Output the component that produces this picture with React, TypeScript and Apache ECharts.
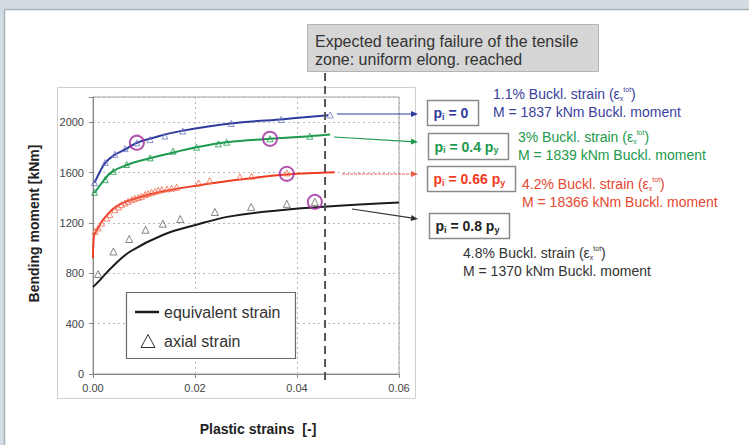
import React, { useEffect, useRef } from "react";
import * as echarts from "echarts";

// ---- data ----
const blueLineX = [0.0003, 0.0014, 0.0024, 0.004, 0.0063, 0.0086, 0.0122, 0.0171, 0.0269, 0.0367, 0.0461];
const blueLineY = [1518, 1610, 1677, 1735, 1783, 1836, 1881, 1929, 1990, 2022, 2056];
const blueMarkX = [0.0003, 0.0024, 0.0043, 0.0063, 0.0086, 0.0112, 0.0141, 0.0176, 0.0271, 0.0369, 0.0465];
const blueMarkY = [1520, 1680, 1745, 1790, 1836, 1862, 1890, 1930, 1990, 2022, 2058];

const greenLineX = [0.0003, 0.002, 0.0037, 0.0069, 0.0102, 0.0141, 0.0203, 0.0262, 0.0347, 0.0425, 0.0465];
const greenLineY = [1438, 1531, 1605, 1664, 1703, 1743, 1801, 1841, 1868, 1889, 1902];
const greenMarkX = [0.0003, 0.0024, 0.004, 0.0066, 0.0112, 0.0157, 0.0203, 0.0246, 0.0262, 0.0347, 0.0425];
const greenMarkY = [1443, 1544, 1610, 1664, 1717, 1770, 1801, 1828, 1841, 1868, 1889];

const redLineX = [0, 0.0002, 0.0006, 0.002, 0.0046, 0.0086, 0.0138, 0.0203, 0.0288, 0.038, 0.0474];
const redLineY = [920, 1100, 1130, 1226, 1332, 1398, 1451, 1496, 1544, 1584, 1602];
const redMarkX = [0.0004, 0.001, 0.0017, 0.0027, 0.0033, 0.0043, 0.005, 0.0056, 0.0063, 0.0069, 0.0076, 0.0082, 0.0089, 0.0095, 0.0102, 0.0108, 0.0115, 0.0122, 0.0128, 0.0135, 0.0145, 0.0154, 0.0164, 0.0207, 0.0229, 0.0288, 0.0311, 0.038];
const redMarkY = [1133, 1160, 1199, 1239, 1266, 1305, 1327, 1345, 1359, 1372, 1385, 1395, 1403, 1411, 1425, 1433, 1443, 1451, 1459, 1465, 1470, 1475, 1483, 1518, 1536, 1566, 1571, 1597];

const blackLineX = [0, 0.0014, 0.004, 0.0073, 0.0138, 0.0203, 0.0269, 0.0367, 0.046, 0.06];
const blackLineY = [690, 748, 860, 973, 1106, 1186, 1252, 1300, 1330, 1362];
const blackMarkX = [0.001, 0.004, 0.0071, 0.0103, 0.0137, 0.0171, 0.0239, 0.031, 0.038, 0.0435];
const blackMarkY = [794, 973, 1072, 1146, 1194, 1231, 1287, 1327, 1351, 1367];

const bucklingX = [0.0086, 0.0347, 0.038, 0.0435];
const bucklingY = [1837, 1868, 1590, 1367];

const tearingStrain = 0.0455;
const xTicks = { min: 0, max: 0.06, interval: 0.02 };
const yTicks = { min: 0, max: 2200, interval: 400, lastLabel: 2000 };

const BLUE = "#2f3c9e";
const GREEN = "#1d9a4e";
const RED = "#ef3b24";
const BLACK = "#1c1c1c";
const MAGENTA = "#a02a9c";
const FONT = "'Liberation Sans', Arial, sans-serif";

const zip = (xs: number[], ys: number[]) => xs.map((x, i) => [x, ys[i]]);

function arrow(x1: number, y1: number, x2: number, y2: number, color: string, dash?: number[]) {
  const a = Math.atan2(y2 - y1, x2 - x1);
  const L = 7, W = 3;
  const bx = x2 - L * Math.cos(a), by = y2 - L * Math.sin(a);
  const px = -Math.sin(a) * W, py = Math.cos(a) * W;
  return [
    { type: "line", z: 50, shape: { x1, y1, x2: bx, y2: by }, style: { stroke: color, lineWidth: 1.2, lineDash: dash } },
    { type: "polygon", z: 50, shape: { points: [[x2, y2], [bx + px, by + py], [bx - px, by - py]] }, style: { fill: color } },
  ];
}

function labelBox(x: number, y: number, w: number, h: number, color: string, value: string, py: boolean) {
  const parts = "{m|p}{s|i}{m| = " + value + (py ? " p}{s|y}" : "}");
  return [
    { type: "rect", z: 50, shape: { x, y, width: w, height: h }, style: { fill: "#fff", stroke: "#8a8a8a", lineWidth: 1.5 } },
    {
      type: "text", z: 51, x: x + 6, y: y + h / 2,
      style: {
        text: parts, verticalAlign: "middle", align: "left",
        rich: {
          m: { fontFamily: FONT, fontSize: 14, fontWeight: "bold", fill: color, lineHeight: 16, verticalAlign: "middle" },
          s: { fontFamily: FONT, fontSize: 9, fontWeight: "bold", fill: color, lineHeight: 10, verticalAlign: "bottom" },
        },
      },
    },
  ];
}

function noteText(x: number, y: number, color: string, pct: string, moment: string) {
  const rich = {
    m: { fontFamily: FONT, fontSize: 14, fill: color, lineHeight: 16, verticalAlign: "middle" },
    s: { fontFamily: FONT, fontSize: 7, fill: color, lineHeight: 8, verticalAlign: "bottom" },
    u: { fontFamily: FONT, fontSize: 7, fill: color, lineHeight: 8, verticalAlign: "top" },
  };
  return [
    { type: "text", z: 51, x, y, style: { text: "{m|" + pct + "% Buckl. strain (ε}{s|x}{u|tot}{m|)}", verticalAlign: "middle", rich } },
    { type: "text", z: 51, x, y: y + 18, style: { text: "M = " + moment + " kNm Buckl. moment", fontFamily: FONT, fontSize: 14, fill: color, verticalAlign: "middle" } },
  ];
}

export default function App() {
  const ref = useRef<HTMLDivElement>(null);
  useEffect(() => {
    if (!ref.current) return;
    const chart = echarts.init(ref.current, undefined, { renderer: "svg" });
    const lineSeries = (name: string, xs: number[], ys: number[], color: string) => ({
      type: "line", name, data: zip(xs, ys), smooth: 0.4, showSymbol: false, symbol: "none",
      lineStyle: { color, width: 2 }, z: 3,
    });
    const markSeries = (name: string, xs: number[], ys: number[], color: string, size: number, bw: number) => ({
      type: "scatter", name, data: zip(xs, ys), symbol: "triangle", symbolSize: size,
      itemStyle: { color: "rgba(255,255,255,0)", borderColor: color, borderWidth: bw }, z: 4,
    });
    chart.setOption({
      animation: false,
      backgroundColor: "#ffffff",
      grid: { left: 93, top: 97, width: 306, height: 277, show: true, borderColor: "#a0a0a0", borderWidth: 1, backgroundColor: "transparent" },
      xAxis: {
        type: "value", min: xTicks.min, max: xTicks.max, interval: xTicks.interval,
        name: "Plastic strains  [-]", nameLocation: "middle", nameGap: 48,
        nameTextStyle: { fontFamily: FONT, fontSize: 14, fontWeight: "bold", color: "#222", padding: [0, 0, 0, 24] },
        axisLine: { show: true, lineStyle: { color: "#888", width: 1 } },
        axisTick: { show: true, length: 4, lineStyle: { color: "#888" } },
        axisLabel: { fontFamily: FONT, fontSize: 11, color: "#444", margin: 8, formatter: (v: number) => v.toFixed(2) },
        splitLine: { show: true, lineStyle: { color: "#b8b8b8", type: [2, 3], width: 1 } },
      },
      yAxis: {
        type: "value", min: yTicks.min, max: yTicks.max, interval: yTicks.interval,
        name: "Bending moment [kNm]", nameLocation: "middle", nameGap: 52, nameRotate: 90,
        nameTextStyle: { fontFamily: FONT, fontSize: 14, fontWeight: "bold", color: "#222", padding: [0, 0, 0, 24] },
        axisLine: { show: true, lineStyle: { color: "#888", width: 1 } },
        axisTick: { show: true, length: 4, lineStyle: { color: "#888" } },
        axisLabel: { fontFamily: FONT, fontSize: 11, color: "#444", margin: 9, formatter: (v: number) => (v > yTicks.lastLabel ? "" : String(v)) },
        splitLine: { show: true, lineStyle: { color: "#b8b8b8", type: [2, 3], width: 1 } },
      },
      series: [
        lineSeries("pi0", blueLineX, blueLineY, BLUE),
        markSeries("pi0m", blueMarkX, blueMarkY, "#6f78c0", 6, 1),
        lineSeries("pi04", greenLineX, greenLineY, GREEN),
        markSeries("pi04m", greenMarkX, greenMarkY, GREEN, 6, 1),
        lineSeries("pi066", redLineX, redLineY, RED),
        markSeries("pi066m", redMarkX, redMarkY, "#f36a50", 6, 1),
        lineSeries("pi08", blackLineX, blackLineY, BLACK),
        markSeries("pi08m", blackMarkX, blackMarkY, "#555", 7, 0.9),
        {
          type: "scatter", name: "buckling", data: zip(bucklingX, bucklingY), symbol: "circle", symbolSize: 14,
          itemStyle: { color: "rgba(255,255,255,0)", borderColor: MAGENTA, borderWidth: 2 }, z: 5,
        },
      ],
    });

    const [tx] = chart.convertToPixel({ gridIndex: 0 }, [tearingStrain, 0]) as number[];

    const graphics: any[] = [
      // frame
      { type: "rect", z: -20, shape: { x: 0, y: 0, width: 749, height: 9 }, style: { fill: "#d3dce3" } },
      { type: "rect", z: -20, shape: { x: 0, y: 0, width: 4, height: 445 }, style: { fill: "#d3dce3" } },
      { type: "line", z: -19, shape: { x1: 4.5, y1: 9.5, x2: 749, y2: 9.5 }, style: { stroke: "#a8b2b9", lineWidth: 1.5 } },
      { type: "line", z: -19, shape: { x1: 4.5, y1: 9.5, x2: 4.5, y2: 445 }, style: { stroke: "#a8b2b9", lineWidth: 1.5 } },
      // chart panel
      { type: "rect", z: -10, shape: { x: 57.5, y: 87.5, width: 358, height: 311 }, style: { fill: "#fff", stroke: "#cfcfcf", lineWidth: 1 } },
      // tearing line
      { type: "line", z: 20, shape: { x1: tx, y1: 73, x2: tx, y2: 384 }, style: { stroke: "#555", lineWidth: 2, lineDash: [8, 5] } },
      // annotation box
      { type: "rect", z: 30, shape: { x: 307.5, y: 24.5, width: 291, height: 47 }, style: { fill: "#d6d6d6", stroke: "#b4b4b4", lineWidth: 1 } },
      { type: "text", z: 31, x: 315, y: 41, style: { text: "Expected tearing failure of the tensile", fontFamily: FONT, fontSize: 16, fill: "#333", verticalAlign: "middle" } },
      { type: "text", z: 31, x: 315, y: 59, style: { text: "zone: uniform elong. reached", fontFamily: FONT, fontSize: 16, fill: "#333", verticalAlign: "middle" } },
      // arrows
      ...arrow(337, 114, 418, 114, BLUE),
      ...arrow(334, 137, 418, 142, GREEN),
      ...arrow(342, 174, 418, 174, "#e8604c", [3, 1]),
      ...arrow(352, 209, 418, 219, "#333"),
      // label boxes
      ...labelBox(427.5, 100.5, 51, 25, BLUE, "0", false),
      ...labelBox(428.5, 133.5, 80, 26, GREEN, "0.4", true),
      ...labelBox(427.5, 166.5, 88, 25, RED, "0.66", true),
      ...labelBox(429.5, 213.5, 80, 25, "#222", "0.8", true),
      // notes
      ...noteText(493, 94, "#3a409c", "1.1", "1837"),
      ...noteText(518, 137, "#22994c", "3", "1839"),
      ...noteText(522, 184, "#e5472f", "4.2", "18366"),
      ...noteText(463, 253, "#333", "4.8", "1370"),
      // legend
      { type: "rect", z: 60, shape: { x: 126.5, y: 292.5, width: 169, height: 66 }, style: { fill: "#fff", stroke: "#6a6a6a", lineWidth: 1.2 } },
      { type: "line", z: 61, shape: { x1: 135, y1: 312, x2: 159, y2: 312 }, style: { stroke: BLACK, lineWidth: 2.5 } },
      { type: "text", z: 61, x: 164, y: 312, style: { text: "equivalent strain", fontFamily: FONT, fontSize: 16, fill: "#333", verticalAlign: "middle" } },
      { type: "polygon", z: 61, shape: { points: [[148, 334.5], [141, 347.5], [155, 347.5]] }, style: { fill: "#fff", stroke: "#333", lineWidth: 1 } },
      { type: "text", z: 61, x: 164, y: 341, style: { text: "axial strain", fontFamily: FONT, fontSize: 16, fill: "#333", verticalAlign: "middle" } },
    ];
    chart.setOption({ graphic: { elements: graphics } });
    return () => chart.dispose();
  }, []);
  return <div ref={ref} style={{ position: "absolute", left: 0, top: 0, width: 749, height: 445 }} />;
}
